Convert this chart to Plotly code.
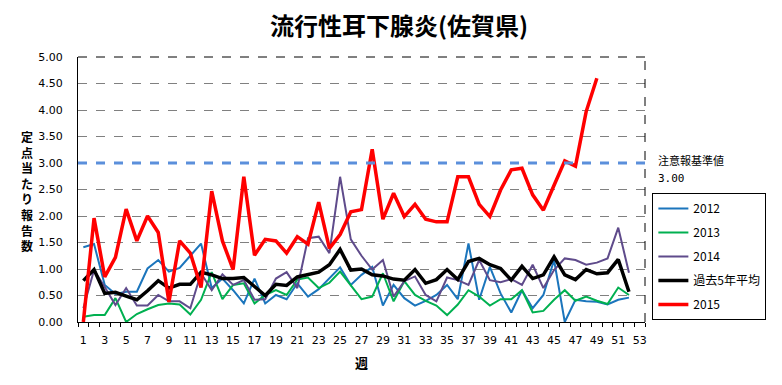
import plotly.graph_objects as go

weeks = list(range(1, 54))

s2012 = [1.41, 1.47, 0.70, 0.53, 0.57, 0.57, 1.01, 1.17, 0.95, 1.02, 1.25, 1.48, 0.64, 0.82,
         0.60, 0.35, 0.82, 0.35, 0.51, 0.43, 0.73, 0.48, 0.62, 0.82, 1.03, 0.70, 0.89, 1.04,
         0.31, 0.70, 0.45, 0.31, 0.40, 0.51, 0.70, 0.43, 1.48, 0.42, 1.04, 0.54, 0.18, 0.60,
         0.26, 0.51, 1.17, 0.00, 0.42, 0.39, 0.38, 0.33, 0.42, 0.46]
s2013 = [0.10, 0.13, 0.13, 0.45, 0.00, 0.15, 0.24, 0.32, 0.35, 0.33, 0.14, 0.42, 0.94, 0.43,
         0.70, 0.73, 0.35, 0.51, 0.60, 0.51, 0.80, 0.84, 0.64, 0.74, 0.95, 0.70, 0.43, 0.48,
         0.92, 0.39, 0.77, 0.51, 0.40, 0.31, 0.13, 0.33, 0.60, 0.48, 0.31, 0.43, 0.43, 0.60,
         0.18, 0.21, 0.42, 0.60, 0.40, 0.48, 0.40, 0.34, 0.65, 0.51]
s2014 = [0.26, 0.98, 0.66, 0.32, 0.64, 0.31, 0.31, 0.51, 0.39, 0.39, 0.26, 0.92, 0.60, 0.90,
         0.70, 0.79, 0.42, 0.43, 0.82, 0.94, 0.64, 1.58, 1.61, 1.30, 2.74, 1.56, 1.25, 0.99,
         1.17, 0.48, 0.77, 0.86, 0.51, 0.39, 0.84, 0.79, 0.70, 1.17, 0.79, 0.75, 0.81, 0.70,
         1.08, 0.64, 0.98, 1.20, 1.17, 1.08, 1.12, 1.20, 1.78, 0.93]
avg5 = [0.78, 0.99, 0.54, 0.56, 0.49, 0.42, 0.59, 0.78, 0.64, 0.71, 0.71, 0.94, 0.89, 0.82,
        0.82, 0.84, 0.67, 0.50, 0.71, 0.69, 0.85, 0.90, 0.94, 1.08, 1.37, 0.98, 1.00, 0.89,
        0.87, 0.81, 0.79, 0.99, 0.73, 0.80, 0.99, 0.80, 1.14, 1.20, 1.08, 1.01, 0.79, 1.05,
        0.82, 0.89, 1.23, 0.89, 0.80, 0.99, 0.91, 0.93, 1.18, 0.57]
s2015 = [0.00, 1.96, 0.85, 1.22, 2.13, 1.53, 2.00, 1.69, 0.38, 1.53, 1.30, 0.65, 2.47, 1.53,
         0.99, 2.74, 1.26, 1.56, 1.53, 1.30, 1.61, 1.47, 2.26, 1.39, 1.65, 2.08, 2.12, 3.26,
         1.94, 2.43, 1.99, 2.22, 1.94, 1.89, 1.89, 2.74, 2.74, 2.22, 1.99, 2.49, 2.87, 2.90,
         2.40, 2.11, 2.58, 3.04, 2.94, 3.97, 4.60]

THRESHOLD = 3.00
title_text = "流行性耳下腺炎(佐賀県)"
y_title = "定点当たり報告数"
x_title = "週"
x_tickvals = list(range(1, 54, 2))
y_tickvals = [0, 0.5, 1, 1.5, 2, 2.5, 3, 3.5, 4, 4.5, 5]

JP = "Noto Sans CJK JP"
NUM = "DejaVu Sans"

series = [
    ("2012", s2012, "#1B75BC", 2),
    ("2013", s2013, "#00B050", 2),
    ("2014", s2014, "#5F4B8B", 2),
    ("過去5年平均", avg5, "#000000", 3.5),
    ("2015", s2015, "#FF0000", 3.5),
]

fig = go.Figure()
for i, (name, vals, color, w) in enumerate(series):
    fig.add_trace(go.Scatter(
        x=weeks[:len(vals)], y=vals, mode="lines", name=name,
        line=dict(color=color, width=w), legendgroup=str(i),
    ))

fig.add_shape(type="line", xref="paper", yref="y", x0=0, x1=1.013,
              y0=THRESHOLD, y1=THRESHOLD,
              line=dict(color="#5B8FDB", width=3, dash="dash"))
# dashed frame top/right
fig.add_shape(type="line", xref="paper", yref="paper", x0=0, x1=1, y0=1, y1=1,
              line=dict(color="#000000", width=1, dash="dash"))
fig.add_shape(type="line", xref="paper", yref="paper", x0=1, x1=1, y0=0, y1=1,
              line=dict(color="#000000", width=1, dash="dash"))

fig.add_annotation(xref="paper", yref="y", x=1.02, y=THRESHOLD, xanchor="left",
                   yanchor="middle", yshift=3, showarrow=False, text="注意報基準値",
                   font=dict(family=JP, size=11, color="#000000"))
fig.add_annotation(xref="paper", yref="y", x=1.02, y=THRESHOLD, xanchor="left",
                   yanchor="middle", yshift=-15, showarrow=False, text=f"{THRESHOLD:.2f}",
                   font=dict(family="DejaVu Sans Mono", size=11, color="#000000"))

# page has an 8px body margin: plot area sits at x 78..645.5, y 57..322 on screen
PLOT_TOP, PLOT_H = 49, 265
fig.add_annotation(xref="paper", yref="paper", x=-0.09,
                   y=(PLOT_TOP + PLOT_H - (191 - 8)) / PLOT_H,
                   xanchor="center", yanchor="middle", showarrow=False,
                   text="<b>" + "<br>".join(y_title) + "</b>",
                   font=dict(family=JP, size=12, color="#000000"))

fig.add_annotation(xref="paper", yref="paper", x=0.5, y=-0.11, xanchor="center",
                   yanchor="top", showarrow=False, text=f"<b>{x_title}</b>",
                   font=dict(family=JP, size=13, color="#000000"))

fig.update_layout(
    width=782, height=385,
    margin=dict(l=70, r=144.5, t=49, b=71),
    paper_bgcolor="#FFFFFF", plot_bgcolor="#FFFFFF",
    title=dict(text=f"<b>{title_text}</b>", x=0.5, xanchor="center", y=0.9506,
               yanchor="middle", font=dict(family=JP, size=24, color="#000000")),
    showlegend=True,
    legend=dict(x=1.013, y=0.487, xanchor="left", yanchor="top",
                bordercolor="#000000", borderwidth=1, bgcolor="#FFFFFF",
                tracegroupgap=5, font=dict(family=JP, size=12, color="#000000"),
                itemwidth=30),
    xaxis=dict(range=[0.5, 53.5], tickvals=x_tickvals, ticks="", showgrid=False,
               showline=True, linecolor="#000000", linewidth=1, zeroline=False,
               ticklabelstandoff=8,
               tickfont=dict(family=NUM, size=11, color="#000000"),
               minor=dict(tick0=0.5, dtick=1, ticks="outside", ticklen=4,
                          tickcolor="#000000", showgrid=False)),
    yaxis=dict(range=[0, 5], tickvals=y_tickvals, tickformat=".2f", ticks="",
               showgrid=True, gridcolor="#808080", griddash="dash", gridwidth=1,
               showline=True, linecolor="#000000", linewidth=1, zeroline=False,
               ticklabelstandoff=12,
               tickfont=dict(family=NUM, size=11, color="#000000")),
)

fig.write_html("out.html")
